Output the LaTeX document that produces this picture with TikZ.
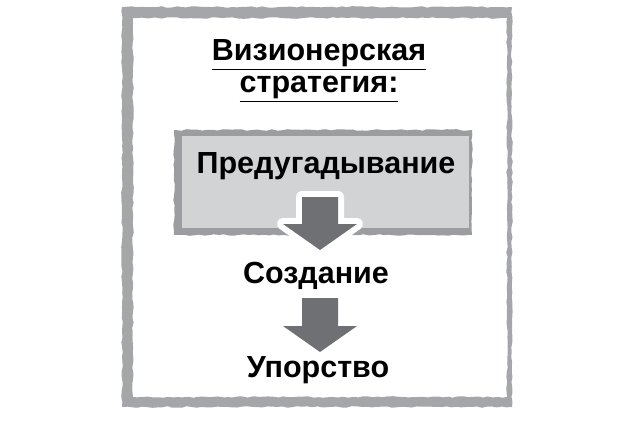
\documentclass[tikz,border=0pt]{standalone}
\usepackage{fontspec}
\setmainfont{Liberation Sans}
\usetikzlibrary{calc,decorations.pathmorphing}
\definecolor{framegray}{HTML}{A5A6A9}
\definecolor{boxfill}{HTML}{D2D3D5}
\definecolor{boxedge}{HTML}{9C9DA0}
\definecolor{arrowgray}{HTML}{6F7073}
\tikzset{
  stage/.style={font=\bfseries\fontsize{30.5}{32}\selectfont,inner sep=0pt,anchor=base},
  rough/.style={decorate,decoration={random steps,segment length=5pt,amplitude=0.8pt}},
  fat arrow/.style={fill=arrowgray,preaction={draw=white,line width=12pt,line join=round}}
}
\newcommand{\fatarrow}[2]{%
  \path[fat arrow] let \p1=(#1),\p2=(#2) in
    (\x1-18pt,\y1) -- (\x1+18pt,\y1) -- (\x1+18pt,\y2+26pt) -- (\x1+37pt,\y2+26pt)
    -- (\x2,\y2) -- (\x1-37pt,\y2+26pt) -- (\x1-18pt,\y2+26pt) -- cycle;}
\begin{document}
\begin{tikzpicture}[x=1pt,y=-1pt]
\useasboundingbox (0,0) rectangle (620,422);
% frame and grey box
\fill[framegray,even odd rule,rough] (122,7) rectangle (512,407) (133,18) rectangle (507,397);
\fill[boxedge,rough] (174,130) rectangle (472,235);
\fill[boxfill] (182,136) rectangle (469,228);
% texts
\node[stage,align=center] (title) at (319,93) {\underline{Визионерская}\\\underline{стратегия:}};
\node[stage] (ant) at (326,173) {Предугадывание};
\node[stage] (cre) at (316,283) {Создание};
\node[stage] (per) at (318,377) {Упорство};
% arrows
\coordinate (a1) at ($(ant.base)+(-6,24)$);
\coordinate (b1) at ($(cre.base)+(4,-33)$);
\coordinate (a2) at ($(cre.base)+(4,15)$);
\coordinate (b2) at ($(per.base)+(2,-25)$);
\fatarrow{a1}{b1}
\fatarrow{a2}{b2}
\end{tikzpicture}
\end{document}
